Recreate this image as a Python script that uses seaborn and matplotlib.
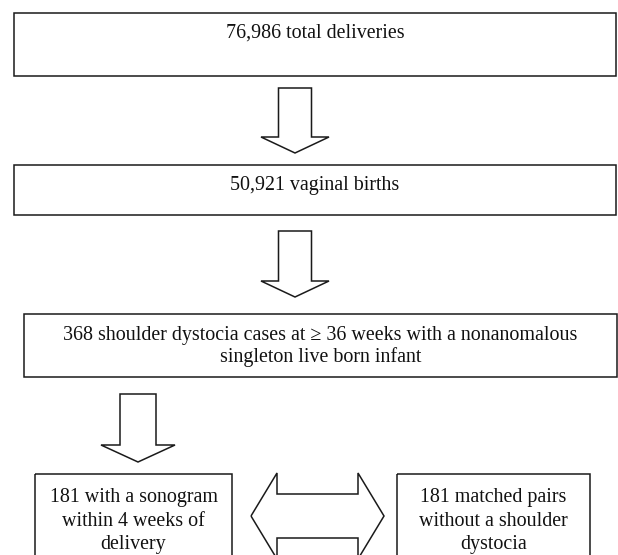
import matplotlib
matplotlib.use("Agg")
import matplotlib.pyplot as plt
from matplotlib.patches import Polygon, Rectangle
import seaborn as sns

sns.set_theme(style="white")
plt.rcParams['font.family'] = ['Liberation Serif', 'DejaVu Serif']

# Flowchart content
box_labels = [
    ["76,986 total deliveries"],
    ["50,921 vaginal births"],
    ["368 shoulder dystocia cases at \u2265 36 weeks with a nonanomalous",
     "singleton live born infant"],
    ["181 with a sonogram", "within 4 weeks of", "delivery"],
    ["181 matched pairs", "without a shoulder", "dystocia"],
]

W, H = 618, 555
fig = plt.figure(figsize=(W / 100, H / 100), dpi=100)
ax = fig.add_axes([0, 0, 1, 1])
ax.set_xlim(0, W)
ax.set_ylim(H, 0)
ax.axis("off")

LC = "#1a1a1a"
LW = 1.1
FS = 14.4

# boxes: (x0, y0, x1, y1, first baseline, line step)
boxes = [
    (14, 13, 616, 76, 38, 22),
    (14, 165, 616, 215, 190, 22),
    (24, 314, 617, 377, 340, 22),
    (35, 474, 232, 600, 502, 23.5),
    (397, 474, 590, 600, 502, 23.5),
]
for (x0, y0, x1, y1, by, step), lines in zip(boxes, box_labels):
    ax.add_patch(Rectangle((x0, y0), x1 - x0, y1 - y0, fill=False,
                           edgecolor=LC, linewidth=LW, clip_on=True))
    for i, ln in enumerate(lines):
        ax.text((x0 + x1) / 2, by + i * step, ln, ha="center", va="baseline",
                fontsize=FS, color="#111111")


def down_arrow(cx, top, base, tip, sw=16.5, hw=34):
    pts = [(cx - sw, top), (cx + sw, top), (cx + sw, base), (cx + hw, base),
           (cx, tip), (cx - hw, base), (cx - sw, base)]
    ax.add_patch(Polygon(pts, closed=True, fill=False, edgecolor=LC,
                         linewidth=LW, joinstyle="miter"))


down_arrow(295, 88, 137, 153)
down_arrow(295, 231, 281, 297)
down_arrow(138, 394, 445, 462, sw=18, hw=37)

# double arrow between the bottom boxes
cy = 516
pts = [(251, cy), (277, cy - 43), (277, cy - 22), (358, cy - 22), (358, cy - 43),
       (384, cy), (358, cy + 43), (358, cy + 22), (277, cy + 22), (277, cy + 43)]
ax.add_patch(Polygon(pts, closed=True, fill=False, edgecolor=LC,
                     linewidth=LW, joinstyle="miter"))

fig.savefig("out.png", dpi=100, facecolor="white")
